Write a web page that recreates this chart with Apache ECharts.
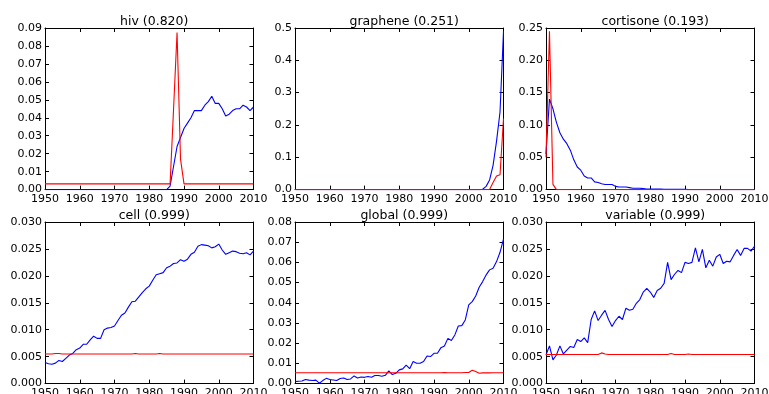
<!DOCTYPE html>
<html>
<head>
<meta charset="utf-8">
<script src="https://cdn.jsdelivr.net/npm/echarts@6/dist/echarts.min.js"></script>
<style>
html,body{margin:0;padding:0;background:#fff;overflow:hidden;}
#c{width:769px;height:394px;}
</style>
</head>
<body>
<div id="c"></div>
<script>
// ---- data ----
const years = [1950,1951,1952,1953,1954,1955,1956,1957,1958,1959,1960,1961,1962,1963,1964,1965,1966,1967,1968,1969,1970,1971,1972,1973,1974,1975,1976,1977,1978,1979,1980,1981,1982,1983,1984,1985,1986,1987,1988,1989,1990,1991,1992,1993,1994,1995,1996,1997,1998,1999,2000,2001,2002,2003,2004,2005,2006,2007,2008,2009,2010];

const titles = ["hiv (0.820)","graphene (0.251)","cortisone (0.193)","cell (0.999)","global (0.999)","variable (0.999)"];

const hivBlue = [0,0,0,0,0,0,0,0,0,0, 0,0,0,0,0,0,0,0,0,0, 0,0,0,0,0,0,0,0,0,0, 0,0,0,0,0,
  0,0.002,0.013,0.024,0.029,0.034,0.037,0.040,0.044,0.044,0.044,0.047,0.049,0.052,0.048,0.048,0.045,0.041,0.042,0.044,0.045,0.045,0.047,0.046,0.044,0.046];
const hivRed = [0.0032,0.0032,0.0032,0.0032,0.0032,0.0032,0.0032,0.0032,0.0032,0.0032,
  0.0032,0.0032,0.0032,0.0032,0.0032,0.0032,0.0032,0.0032,0.0032,0.0032,
  0.0032,0.0032,0.0032,0.0032,0.0032,0.0032,0.0032,0.0032,0.0032,0.0032,
  0.0032,0.0032,0.0032,0.0032,0.0032,0.0032,0.0032,
  0.045,0.0875,0.017,
  0.0032,0.0032,0.0032,0.0032,0.0032,0.0032,0.0032,0.0032,0.0032,0.0032,
  0.0032,0.0032,0.0032,0.0032,0.0032,0.0032,0.0032,0.0032,0.0032,0.0032,0.0032];

const grapheneBlue = [0,0,0,0,0,0,0,0,0,0, 0,0,0,0,0,0,0,0,0,0, 0,0,0,0,0,0,0,0,0,0,
  0,0,0,0,0,0,0,0,0,0, 0,0,0,0,0,0,0,0,0,0, 0,0,0,0,
  0.001,0.01,0.03,0.075,0.15,0.24,0.49];
const grapheneRed = [0,0,0,0,0,0,0,0,0,0, 0,0,0,0,0,0,0,0,0,0, 0,0,0,0,0,0,0,0,0,0,
  0,0,0,0,0,0,0,0,0,0, 0,0,0,0,0,0,0,0,0,0, 0,0,0,0,0,0,0,
  0.022,0.042,0.046,0.22];

const cortisoneBlue = [0.055,0.14,0.125,0.104,0.088,0.078,0.071,0.061,0.046,0.035,
  0.030,0.021,0.018,0.018,0.012,0.011,0.009,0.008,0.008,0.008,
  0.005,0.004,0.004,0.004,0.003,0.002,0.002,0.002,0.0015,0.001,
  0.001,0.001,0.0008,0.0008,0.0006,0.0005,0.0005,0.0004,0.0004,0.0003,
  0.0003,0,0,0,0,0,0,0,0,0, 0,0,0,0,0,0,0,0,0,0,0];
const cortisoneRed = [0.05,0.245,0.008,0,0,0,0,0,0,0, 0,0,0,0,0,0,0,0,0,0,
  0,0,0,0,0,0,0,0,0,0, 0,0,0,0,0,0,0,0,0,0, 0,0,0,0,0,0,0,0,0,0,
  0,0,0,0,0,0,0,0,0,0,0];

const cellBlue = [0.0039,0.0037,0.0036,0.0038,0.0043,0.0041,0.0047,0.0053,0.0056,0.0063,
  0.0066,0.0073,0.0073,0.0081,0.0088,0.0084,0.0084,0.0100,0.0103,0.0104,
  0.0107,0.0117,0.0127,0.0131,0.0142,0.0152,0.0153,0.0161,0.0169,0.0176,
  0.0181,0.0192,0.0202,0.0204,0.0206,0.0215,0.0218,0.0223,0.0224,0.0230,
  0.0227,0.0231,0.0240,0.0244,0.0255,0.0258,0.0257,0.0256,0.0252,0.0254,
  0.0259,0.0248,0.0240,0.0243,0.0246,0.0245,0.0242,0.0241,0.0243,0.0239,0.0246];
const cellRed = [0.0055,0.0055,0.0055,0.0056,0.0056,0.0055,0.0055,0.0055,0.0055,0.0055,
  0.0055,0.0055,0.0055,0.0055,0.0055,0.0055,0.0055,0.0055,0.0055,0.0055,
  0.0055,0.0055,0.0055,0.0055,0.0055,0.0055,0.0056,0.0055,0.0055,0.0055,
  0.0055,0.0055,0.0055,0.0056,0.0055,0.0055,0.0055,0.0055,0.0055,0.0055,
  0.0055,0.0055,0.0055,0.0055,0.0055,0.0055,0.0055,0.0055,0.0055,0.0055,
  0.0055,0.0055,0.0055,0.0055,0.0055,0.0055,0.0055,0.0055,0.0055,0.0055,0.0055];

const globalBlue = [0.0010,0.0012,0.0013,0.0020,0.0017,0.0015,0.0017,0.0002,0.0015,0.0026,
  0.0020,0.0018,0.0015,0.0025,0.0028,0.0020,0.0023,0.0038,0.0028,0.0033,
  0.0031,0.0035,0.0031,0.0040,0.0040,0.0036,0.0041,0.0063,0.0045,0.0051,
  0.0068,0.0073,0.0092,0.0074,0.0109,0.0101,0.0101,0.0109,0.0137,0.0134,
  0.0150,0.0150,0.0178,0.0186,0.0224,0.0213,0.0241,0.0285,0.0287,0.0315,
  0.0390,0.0406,0.0434,0.0477,0.0505,0.0538,0.0563,0.0571,0.0604,0.0650,0.0715];
const globalRed = [0.0054,0.0054,0.0054,0.0054,0.0054,0.0054,0.0054,0.0054,0.0054,0.0054,
  0.0054,0.0054,0.0054,0.0054,0.0054,0.0054,0.0054,0.0054,0.0054,0.0054,
  0.0054,0.0054,0.0054,0.0054,0.0054,0.0054,0.0054,0.0054,0.0054,0.0054,
  0.0054,0.0054,0.0054,0.0054,0.0054,0.0054,0.0054,0.0054,0.0054,0.0054,
  0.0054,0.0054,0.0054,0.0055,0.0054,0.0054,0.0054,0.0054,0.0054,0.0055,
  0.0055,0.0066,0.0060,0.0051,0.0053,0.0054,0.0053,0.0054,0.0054,0.0054,0.0054];

const variableBlue = [0.0053,0.0070,0.0044,0.0053,0.0070,0.0055,0.0062,0.0069,0.0067,0.0082,
  0.0078,0.0085,0.0076,0.0119,0.0135,0.0117,0.0127,0.0136,0.0119,0.0106,
  0.0117,0.0125,0.0119,0.0140,0.0136,0.0138,0.0149,0.0156,0.0170,0.0177,
  0.0170,0.0160,0.0173,0.0177,0.0186,0.0225,0.0193,0.0203,0.0210,0.0206,
  0.0225,0.0223,0.0225,0.0252,0.0226,0.0249,0.0215,0.0229,0.0218,0.0235,
  0.0240,0.0223,0.0227,0.0226,0.0238,0.0249,0.0238,0.0251,0.0251,0.0246,0.0255];
const variableRed = [0.0054,0.0054,0.0054,0.0054,0.0054,0.0054,0.0054,0.0054,0.0054,0.0054,
  0.0054,0.0054,0.0054,0.0054,0.0054,0.0054,0.0057,0.0055,0.0054,0.0054,
  0.0054,0.0054,0.0054,0.0054,0.0054,0.0054,0.0054,0.0054,0.0054,0.0054,
  0.0054,0.0054,0.0054,0.0054,0.0054,0.0054,0.0056,0.0054,0.0054,0.0054,
  0.0054,0.0055,0.0054,0.0054,0.0054,0.0054,0.0054,0.0054,0.0054,0.0054,
  0.0054,0.0054,0.0054,0.0054,0.0054,0.0054,0.0054,0.0054,0.0054,0.0054,0.0054];

const blueSeries = [hivBlue, grapheneBlue, cortisoneBlue, cellBlue, globalBlue, variableBlue];
const redSeries = [hivRed, grapheneRed, cortisoneRed, cellRed, globalRed, variableRed];

// y-axis tick settings per panel
const yMax = [0.09, 0.5, 0.25, 0.030, 0.08, 0.030];
const yStep = [0.01, 0.1, 0.05, 0.005, 0.01, 0.005];
const yDec = [2, 1, 2, 3, 2, 3];

// ---- layout ----
const lefts = [45, 295, 546];
const tops = [28, 222];
const W = 208.5, H = 161.6;
const FONT = 'DejaVu Sans';

const grids = [], xAxes = [], yAxes = [], series = [], titleOpts = [];
for (let i = 0; i < 6; i++) {
  const col = i % 3, row = Math.floor(i / 3);
  grids.push({left: lefts[col], top: tops[row], width: W, height: H,
    containLabel: false, outerBoundsMode: 'none'});
  titleOpts.push({
    text: titles[i], left: lefts[col] + W / 2, top: tops[row] - 18, textAlign: 'center',
    textStyle: {fontFamily: FONT, fontSize: 12.5, fontWeight: 'normal', color: '#000'}
  });
  const axLine = {show: true, onZero: false, lineStyle: {color: '#000', width: 1}};
  const tick = {show: true, inside: true, length: 4, lineStyle: {color: '#000', width: 1}};
  const xBase = {type: 'value', gridIndex: i, min: 1950, max: 2010, interval: 10,
    axisLine: axLine, axisTick: tick, splitLine: {show: false}};
  xAxes.push(Object.assign({}, xBase, {position: 'bottom',
    axisLabel: {show: true, margin: 4, color: '#000', fontFamily: FONT, fontSize: 11,
      hideOverlap: false, formatter: v => String(v)}}));
  xAxes.push(Object.assign({}, xBase, {position: 'top', axisLabel: {show: false}}));
  const yBase = {type: 'value', gridIndex: i, min: 0, max: yMax[i], interval: yStep[i],
    axisLine: axLine, axisTick: tick, splitLine: {show: false}};
  const dec = yDec[i];
  yAxes.push(Object.assign({}, yBase, {position: 'left',
    axisLabel: {show: true, margin: 3, color: '#000', fontFamily: FONT, fontSize: 11,
      formatter: v => v.toFixed(dec)}}));
  yAxes.push(Object.assign({}, yBase, {position: 'right', axisLabel: {show: false}}));

  const mk = (arr) => years.map((y, k) => [y, arr[k]]);
  series.push({type: 'line', xAxisIndex: 2 * i, yAxisIndex: 2 * i, data: mk(blueSeries[i]),
    showSymbol: false, symbol: 'none', lineStyle: {color: '#0000ff', width: 1.1}, itemStyle: {color: '#0000ff'},
    clip: true, z: 2});
  series.push({type: 'line', xAxisIndex: 2 * i, yAxisIndex: 2 * i, data: mk(redSeries[i]),
    showSymbol: false, symbol: 'none', lineStyle: {color: '#ff0000', width: 1.1}, itemStyle: {color: '#ff0000'},
    clip: true, z: 3});
}

const chart = echarts.init(document.getElementById('c'), null, {renderer: 'canvas'});
chart.setOption({
  animation: false,
  backgroundColor: '#fff',
  title: titleOpts,
  grid: grids,
  xAxis: xAxes,
  yAxis: yAxes,
  series: series
});
</script>
</body>
</html>
